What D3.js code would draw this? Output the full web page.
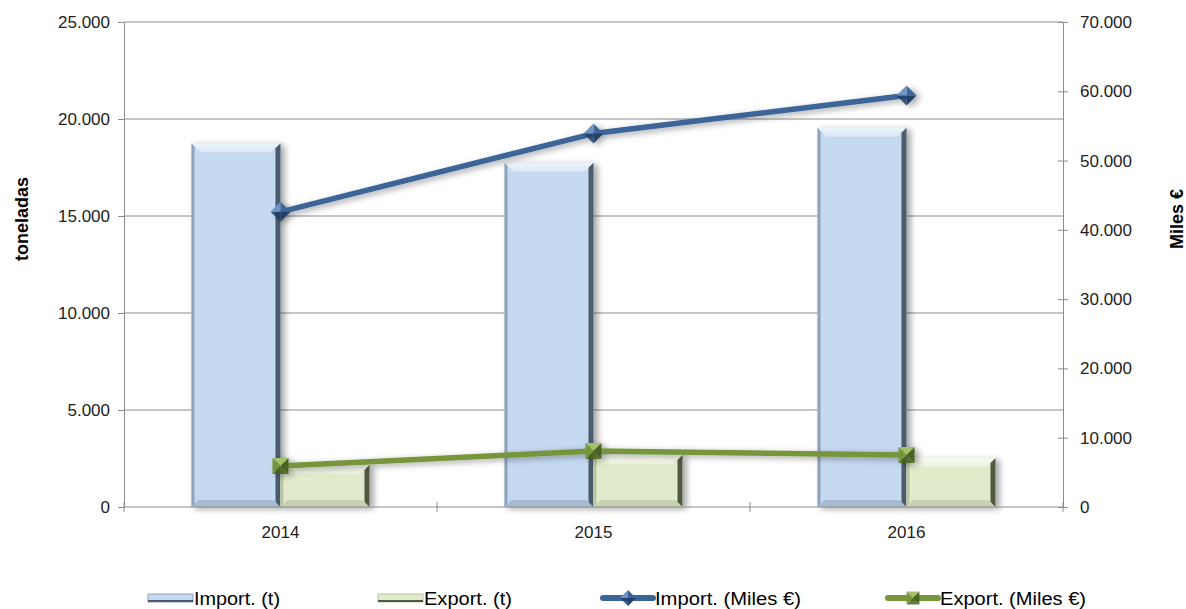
<!DOCTYPE html>
<html>
<head>
<meta charset="utf-8">
<script src="https://cdn.jsdelivr.net/npm/d3@7"></script>
<style>
  body { margin: 0; background: #fff; }
  svg text { font-family: "Liberation Sans", Arial, sans-serif; }
</style>
</head>
<body>
<svg id="chart"></svg>
<script>
// Data
const years = ['2014', '2015', '2016'];
const importTons = [18750, 17750, 19550];
const exportTons = [2170, 2680, 2530];
const importValue = [42600, 53900, 59400];
const exportValue = [5900, 8100, 7500];
const leftTicks = [0, 5000, 10000, 15000, 20000, 25000];
const rightTicks = [0, 10000, 20000, 30000, 40000, 50000, 60000, 70000];

const W = 1186, H = 609;
const margin = { top: 22, right: 123, bottom: 102, left: 124 };
const width = W - margin.left - margin.right;
const height = H - margin.top - margin.bottom;

const fmt = d => d === 0 ? '0' : d3.format(',')(d).replace(/,/g, '.');

const svg = d3.select('#chart')
    .attr('width', W)
    .attr('height', H);

const defs = svg.append('defs');
const sh = defs.append('filter').attr('id', 'shadow')
    .attr('x', '-20%').attr('y', '-20%').attr('width', '160%').attr('height', '160%');
sh.append('feDropShadow')
    .attr('dx', 4).attr('dy', 2).attr('stdDeviation', 3)
    .attr('flood-color', '#000').attr('flood-opacity', 0.35);

function vGrad(id, stops) {
  const g = defs.append('linearGradient').attr('id', id)
      .attr('x1', 0).attr('y1', 0).attr('x2', 0).attr('y2', 1);
  stops.forEach(s => g.append('stop').attr('offset', s[0]).attr('stop-color', s[1]));
}
vGrad('impTop', [[0, '#eef4fb'], [1, '#dae7f6']]);
vGrad('expTop', [[0, '#f8fbf1'], [1, '#ebf3dd']]);

const g = svg.append('g')
    .attr('transform', `translate(${margin.left},${margin.top})`);

const x = d3.scaleBand()
    .domain(years)
    .range([0, width]);

const x1 = d3.scaleBand()
    .domain(['imp', 'exp'])
    .range([0, 178]);

const y = d3.scaleLinear().domain([0, 25000]).range([height, 0]);
const y2 = d3.scaleLinear().domain([0, 70000]).range([height, 0]);

// gridlines
g.append('g')
  .selectAll('line')
  .data(leftTicks.filter(d => d > 0))
  .enter().append('line')
    .attr('x1', 0).attr('x2', width)
    .attr('y1', d => y(d)).attr('y2', d => y(d))
    .attr('stroke', '#8c8c8c').attr('stroke-width', 1);

// bars
const barSets = [
  { key: 'imp', values: importTons, fill: '#c5d9f1', top: 'url(#impTop)', left: '#8fa3bc', right: '#4d5b6c', bottom: '#a6bad3' },
  { key: 'exp', values: exportTons, fill: '#dfebcb', top: 'url(#expTop)', left: '#b9c5a3', right: '#515a40', bottom: '#c6d2b0' }
];

barSets.forEach(s => {
  const bars = g.append('g').selectAll('g')
    .data(years.map((yr, i) => ({ yr, v: s.values[i] })))
    .enter().append('g')
      .attr('filter', 'url(#shadow)');
  const b = 9;
  bars.each(function(d) {
    const x0 = x(d.yr) + (x.bandwidth() - 178) / 2 + x1(s.key);
    const w = x1.bandwidth();
    const yt = y(d.v), yb = y(0);
    const el = d3.select(this);
    el.append('rect')
      .attr('x', x0).attr('y', yt).attr('width', w).attr('height', yb - yt)
      .attr('fill', s.fill);
    el.append('polygon')
      .attr('points', [[x0, yt], [x0 + 3, yt + 3], [x0 + 3, yb - 3], [x0, yb]].join(' '))
      .attr('fill', s.left);
    el.append('polygon')
      .attr('points', [[x0, yb], [x0 + 7, yb - 7], [x0 + w - 7, yb - 7], [x0 + w, yb]].join(' '))
      .attr('fill', s.bottom);
    el.append('polygon')
      .attr('points', [[x0, yt], [x0 + w, yt], [x0 + w - b, yt + b], [x0 + b, yt + b]].join(' '))
      .attr('fill', s.top);
    el.append('polygon')
      .attr('points', [[x0 + w, yt], [x0 + w - 5, yt + 5], [x0 + w - 5, yb - 5], [x0 + w, yb]].join(' '))
      .attr('fill', s.right);
  });
});

// axes
const xAxis = g.append('g')
    .attr('transform', `translate(0,${height})`);
xAxis.append('line')
    .attr('x1', 0).attr('x2', width)
    .attr('stroke', '#8c8c8c');
xAxis.selectAll('.xt')
  .data(d3.range(years.length + 1))
  .enter().append('line')
    .attr('x1', i => i * x.step()).attr('x2', i => i * x.step())
    .attr('y1', -5).attr('y2', 5)
    .attr('stroke', '#8c8c8c');
xAxis.selectAll('.xl')
  .data(years)
  .enter().append('text')
    .attr('x', d => x(d) + x.bandwidth() / 2)
    .attr('y', 31)
    .attr('text-anchor', 'middle')
    .attr('font-size', 17)
    .attr('fill', '#222')
    .text(d => d);

const yAxisL = g.append('g')
    .call(d3.axisLeft(y).tickValues(leftTicks).tickFormat(fmt).tickSize(6).tickSizeOuter(0));
yAxisL.select('.domain').attr('stroke', '#8c8c8c');
yAxisL.selectAll('line').attr('stroke', '#8c8c8c');
yAxisL.selectAll('text')
    .attr('font-size', 17).attr('fill', '#222').attr('x', -14)
    .style('font-family', '"Liberation Sans", Arial, sans-serif');

const yAxisR = g.append('g')
    .attr('transform', `translate(${width},0)`)
    .call(d3.axisRight(y2).tickValues(rightTicks).tickFormat(fmt).tickSize(5).tickSizeOuter(0));
yAxisR.select('.domain').attr('stroke', '#8c8c8c');
yAxisR.selectAll('.tick line').attr('x1', -5).attr('stroke', '#8c8c8c');
yAxisR.selectAll('text')
    .attr('font-size', 17).attr('fill', '#222').attr('x', 17)
    .style('font-family', '"Liberation Sans", Arial, sans-serif');

// axis titles
svg.append('text')
    .attr('transform', 'translate(28,219) rotate(-90)')
    .attr('text-anchor', 'middle')
    .attr('font-size', 18).attr('font-weight', 'bold')
    .text('toneladas');
svg.append('text')
    .attr('transform', 'translate(1183,219) rotate(-90)')
    .attr('text-anchor', 'middle')
    .attr('font-size', 18).attr('font-weight', 'bold')
    .text('Miles €');

// lines
const cx = d => x(d) + x.bandwidth() / 2;
const lineSets = [
  { values: importValue, color: '#3c6597', dark: '#20406a', light: '#6f94c2', shape: 'diamond' },
  { values: exportValue, color: '#77963b', dark: '#4b6320', light: '#a4c06a', shape: 'square' }
];

function marker(sel, s, px, py, size) {
  const r = size / 2;
  if (s.shape === 'diamond') {
    const t = [px, py - r], rt = [px + r, py], bt = [px, py + r], lf = [px - r, py], c = [px, py];
    sel.append('polygon').attr('points', [t, rt, c].join(' ')).attr('fill', s.color);
    sel.append('polygon').attr('points', [rt, bt, c].join(' ')).attr('fill', s.dark);
    sel.append('polygon').attr('points', [bt, lf, c].join(' ')).attr('fill', s.dark).attr('opacity', 0.85);
    sel.append('polygon').attr('points', [lf, t, c].join(' ')).attr('fill', s.light);
  } else {
    const r2 = r * 0.8;
    const tl = [px - r2, py - r2], tr = [px + r2, py - r2], br = [px + r2, py + r2], bl = [px - r2, py + r2], c = [px, py];
    sel.append('polygon').attr('points', [tl, tr, c].join(' ')).attr('fill', s.light);
    sel.append('polygon').attr('points', [tr, br, c].join(' ')).attr('fill', s.dark);
    sel.append('polygon').attr('points', [br, bl, c].join(' ')).attr('fill', s.dark).attr('opacity', 0.85);
    sel.append('polygon').attr('points', [bl, tl, c].join(' ')).attr('fill', s.color);
  }
}

lineSets.forEach(s => {
  const pts = years.map((yr, i) => [cx(yr), y2(s.values[i])]);
  const lg = g.append('g').attr('filter', 'url(#shadow)');
  lg.append('path')
    .datum(pts)
    .attr('d', d3.line())
    .attr('fill', 'none')
    .attr('stroke', s.color)
    .attr('stroke-width', 5.5)
    .attr('stroke-linejoin', 'round');
  pts.forEach(p => marker(lg.append('g'), s, p[0], p[1], 20));
});

// legend
const legend = svg.append('g').attr('transform', 'translate(0,598)');
const legendItems = [
  { label: 'Import. (t)', x: 148, type: 'bar', set: barSets[0] },
  { label: 'Export. (t)', x: 378, type: 'bar', set: barSets[1] },
  { label: 'Import. (Miles €)', x: 603, type: 'line', set: lineSets[0] },
  { label: 'Export. (Miles €)', x: 888, type: 'line', set: lineSets[1] }
];
legendItems.forEach(it => {
  const li = legend.append('g');
  if (it.type === 'bar') {
    li.append('rect').attr('x', it.x).attr('y', -4).attr('width', 45).attr('height', 8)
      .attr('fill', it.set.fill).attr('stroke', it.set.left).attr('stroke-width', 1);
    li.append('rect').attr('x', it.x).attr('y', 2).attr('width', 45).attr('height', 2).attr('fill', it.set.right);
    li.append('text').attr('x', it.x + 46).attr('y', 7).attr('font-size', 18)
      .attr('textLength', it.label === 'Import. (t)' ? 86 : 88).attr('lengthAdjust', 'spacingAndGlyphs')
      .text(it.label);
  } else {
    li.append('line').attr('x1', it.x).attr('x2', it.x + 50).attr('y1', 0).attr('y2', 0)
      .attr('stroke', it.set.color).attr('stroke-width', 6).attr('stroke-linecap', 'round');
    marker(li, it.set, it.x + 25, 0, 16);
    li.append('text').attr('x', it.x + 52).attr('y', 7).attr('font-size', 18)
      .attr('textLength', 146).attr('lengthAdjust', 'spacingAndGlyphs')
      .text(it.label);
  }
});
</script>
</body>
</html>
